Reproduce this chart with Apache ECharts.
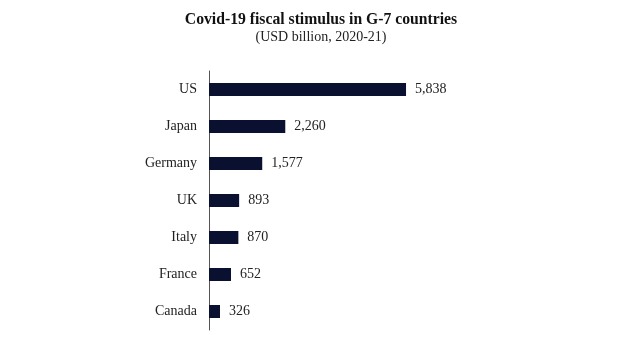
<!DOCTYPE html>
<html><head><meta charset="utf-8">
<script src="https://cdn.jsdelivr.net/npm/echarts@6/dist/echarts.min.js"></script>
<style>html,body{margin:0;padding:0;background:#fff}#c{width:620px;height:355px}</style>
</head><body><div id="c"></div>
<script>
const categories = ["US", "Japan", "Germany", "UK", "Italy", "France", "Canada"];
const values = [5838, 2260, 1577, 893, 870, 652, 326];
const titleText = "Covid-19 fiscal stimulus in G-7 countries";
const subtitleText = "(USD billion, 2020-21)";

const chart = echarts.init(document.getElementById('c'), null, {renderer: 'canvas'});
const font = '"Liberation Serif", "Times New Roman", serif';
chart.setOption({
  backgroundColor: '#fff',
  animation: false,
  title: {
    text: titleText,
    subtext: subtitleText,
    left: 316,
    top: 7,
    textAlign: 'center',
    itemGap: 2,
    textStyle: {fontFamily: font, fontSize: 15.7, fontWeight: 'bold', color: '#111'},
    subtextStyle: {fontFamily: font, fontSize: 14, color: '#222'}
  },
  grid: {left: 209, top: 71, width: 202.5, height: 259, containLabel: false},
  xAxis: {
    type: 'value', min: 0, max: 6000, show: false
  },
  yAxis: {
    type: 'category',
    data: categories,
    inverse: true,
    axisLine: {show: true, lineStyle: {color: '#555', width: 1}},
    axisTick: {show: false},
    axisLabel: {fontFamily: font, fontSize: 14, color: '#222', margin: 12}
  },
  series: [{
    type: 'bar',
    data: values,
    barWidth: 13,
    itemStyle: {color: '#0a1130'},
    label: {
      show: true, position: 'right', distance: 9,
      fontFamily: font, fontSize: 14, color: '#222',
      formatter: p => p.value.toLocaleString('en-US')
    }
  }]
});
</script></body></html>
